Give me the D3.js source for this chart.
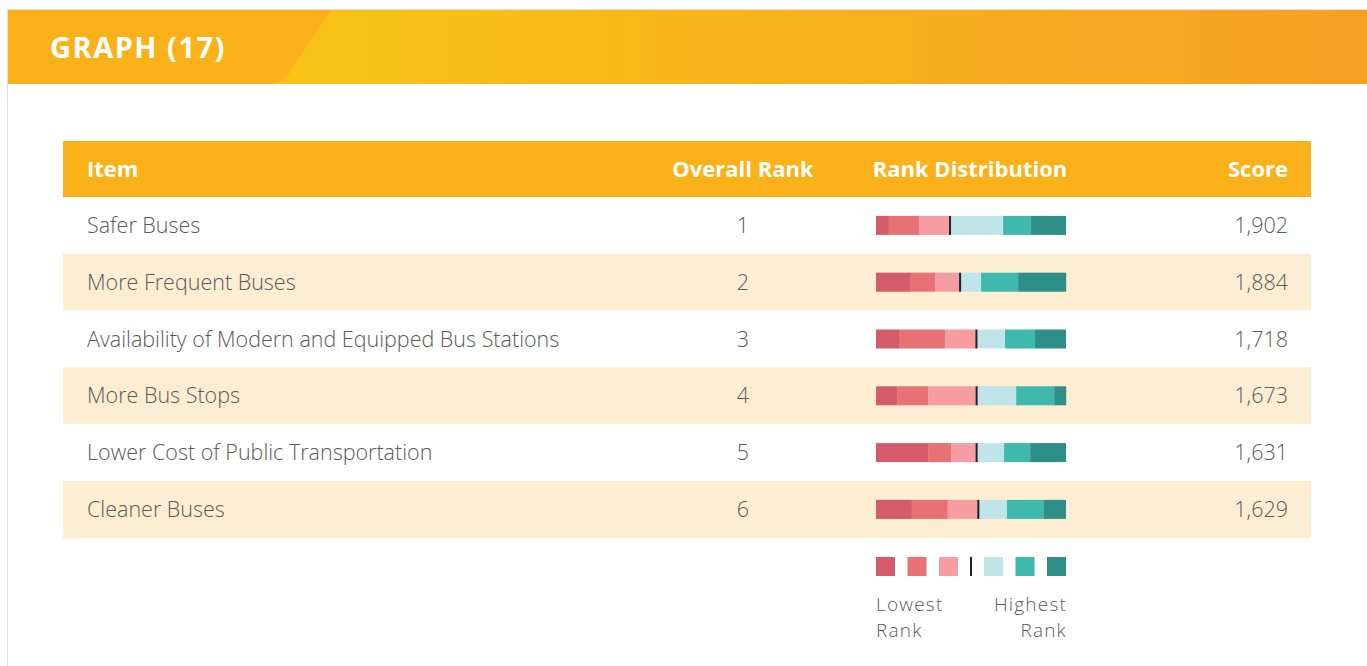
<!DOCTYPE html>
<html>
  <head>
    <meta charset="utf-8">
    <title>Graph 17</title>
    <script src="https://d3js.org/d3.v7.min.js"></script>
    <style>
      html, body { margin: 0; padding: 0; background: #fff; }
      svg { display: block; }
      .head { font-family: "Open Sans", sans-serif; font-weight: 700; fill: #fff; }
      .cell { font-family: "Open Sans", sans-serif; font-weight: 300; fill: #5a5a5a; }
    </style>
  </head>
  <body>
    <div id="chart"></div>
    <script>
      // data
      const items = ["Safer Buses", "More Frequent Buses", "Availability of Modern and Equipped Bus Stations",
                     "More Bus Stops", "Lower Cost of Public Transportation", "Cleaner Buses"];
      const ranks = [1, 2, 3, 4, 5, 6];
      const scores = [1902, 1884, 1718, 1673, 1631, 1629];
      // share of respondents (%) per rank bucket, lowest rank -> highest rank
      const rank1 = [6.8, 17.9, 12.1, 11.1, 27.4, 18.9];
      const rank2 = [15.8, 13.2, 24.2, 16.3, 12.1, 18.9];
      const rank3 = [16.1, 12.9, 16.3, 25.3, 13.2, 15.8];
      const rank4 = [28.2, 11.3, 15.3, 21.1, 14.7, 15.3];
      const rank5 = [14.7, 19.5, 15.8, 20.0, 13.7, 19.5];
      const rank6 = [18.4, 25.3, 16.3, 6.3, 18.9, 11.6];
      const columns = ["Item", "Overall Rank", "Rank Distribution", "Score"];
      const colors = ["#d45b6a", "#e87174", "#f59da3", "#bfe4e9", "#3fb8ae", "#2e8f89"];

      const width = 1367, height = 666;
      const svg = d3.select("#chart").append("svg")
        .attr("width", width)
        .attr("height", height);

      // banner
      const defs = svg.append("defs");
      const grad = defs.append("linearGradient").attr("id", "bannerGrad")
        .attr("x1", "0%").attr("x2", "100%");
      grad.append("stop").attr("offset", "0%").attr("stop-color", "#f8cd12");
      grad.append("stop").attr("offset", "100%").attr("stop-color", "#f6a024");
      svg.append("rect")
        .attr("x", 7.5).attr("y", 9.5).attr("width", width).attr("height", height)
        .attr("fill", "none").attr("stroke", "#dde0e6");
      svg.append("rect")
        .attr("x", 8).attr("y", 10).attr("width", width - 8).attr("height", 74)
        .attr("fill", "url(#bannerGrad)");
      svg.append("path")
        .attr("d", "M8,10 L331,10 L288,75 Q281,84 266,84 L8,84 Z")
        .attr("fill", "#fbb119");
      svg.append("text")
        .attr("class", "head")
        .attr("x", 50).attr("y", 58)
        .style("font-size", "29px")
        .style("letter-spacing", "1.5px")
        .text("GRAPH (17)");

      // table layout
      const tableX0 = 63, tableX1 = 1311;
      const headTop = 141, headH = 56;
      const rowY = d3.scaleBand()
        .domain(items)
        .range([headTop + headH, headTop + headH + 6 * 56.8]);
      const barX = d3.scaleLinear().domain([0, 100]).range([876, 1066]);
      const rankX = 743, scoreX = 1288, itemX = 87;

      svg.append("rect")
        .attr("x", tableX0).attr("y", headTop)
        .attr("width", tableX1 - tableX0).attr("height", headH)
        .attr("fill", "#fbb119");

      const headPos = [[itemX, "start"], [rankX, "middle"], [barX(50) - 1, "middle"], [scoreX, "end"]];
      svg.selectAll(".colhead")
        .data(columns)
        .join("text")
        .attr("class", "head colhead")
        .attr("x", (d, i) => headPos[i][0])
        .attr("y", headTop + headH / 2)
        .attr("dy", "0.35em")
        .attr("text-anchor", (d, i) => headPos[i][1])
        .style("font-size", "22px")
        .text(d => d);

      const rows = svg.selectAll(".row")
        .data(items)
        .join("g")
        .attr("class", "row")
        .attr("transform", d => `translate(0,${rowY(d)})`);

      rows.append("rect")
        .attr("x", tableX0).attr("width", tableX1 - tableX0)
        .attr("height", rowY.bandwidth())
        .attr("fill", (d, i) => i % 2 ? "#fcedd3" : "#fff");

      const mid = rowY.bandwidth() / 2;
      const fs = "21.5px";
      rows.append("text")
        .attr("class", "cell")
        .attr("x", itemX).attr("y", mid).attr("dy", "0.35em")
        .style("font-size", fs)
        .text(d => d);
      rows.append("text")
        .attr("class", "cell")
        .attr("x", rankX).attr("y", mid).attr("dy", "0.35em")
        .attr("text-anchor", "middle")
        .style("font-size", fs)
        .text((d, i) => ranks[i]);
      rows.append("text")
        .attr("class", "cell")
        .attr("x", scoreX).attr("y", mid).attr("dy", "0.35em")
        .attr("text-anchor", "end")
        .style("font-size", fs)
        .text((d, i) => d3.format(",")(scores[i]));

      // stacked distribution bars
      const dist = items.map((d, i) => ({ item: d, r1: rank1[i], r2: rank2[i], r3: rank3[i], r4: rank4[i], r5: rank5[i], r6: rank6[i] }));
      const keys = ["r1", "r2", "r3", "r4", "r5", "r6"];
      const stack = d3.stack().keys(keys)(dist);
      const barH = 19;
      svg.append("g").selectAll("g")
        .data(stack)
        .join("g")
        .attr("fill", (d, i) => colors[i])
        .selectAll("rect")
        .data(d => d)
        .join("rect")
        .attr("x", d => barX(d[0]))
        .attr("width", d => barX(d[1]) - barX(d[0]))
        .attr("y", d => rowY(d.data.item) + mid - barH / 2)
        .attr("height", barH);
      // divider between lower and upper half
      svg.append("g").selectAll("rect")
        .data(stack[2])
        .join("rect")
        .attr("x", d => barX(d[1]) - 0.5)
        .attr("width", 2)
        .attr("y", d => rowY(d.data.item) + mid - barH / 2)
        .attr("height", barH)
        .attr("fill", "#222");

      // legend: three low swatches, divider, three high swatches
      const legY = 557;
      const lowX = d3.scaleLinear().domain([0, 2]).range([876, 939]);
      const highX = d3.scaleLinear().domain([3, 5]).range([984, 1047]);
      const legend = svg.append("g");
      legend.selectAll("rect.sw")
        .data(d3.range(6))
        .join("rect")
        .attr("class", "sw")
        .attr("x", d => d < 3 ? lowX(d) : highX(d))
        .attr("y", legY)
        .attr("width", 19).attr("height", 19)
        .attr("fill", d => colors[d]);
      legend.append("rect")
        .attr("x", 970).attr("y", legY)
        .attr("width", 2).attr("height", 19)
        .attr("fill", "#222");
      const legText = [["Lowest", 611, 876, "start"], ["Rank", 637, 876, "start"],
                       ["Highest", 611, 1067, "end"], ["Rank", 637, 1067, "end"]];
      legend.selectAll("text")
        .data(legText)
        .join("text")
        .attr("class", "cell")
        .attr("x", d => d[2])
        .attr("y", d => d[1])
        .attr("text-anchor", d => d[3])
        .style("font-size", "19px")
        .style("letter-spacing", "1.2px")
        .text(d => d[0]);
    </script>
  </body>
</html>
